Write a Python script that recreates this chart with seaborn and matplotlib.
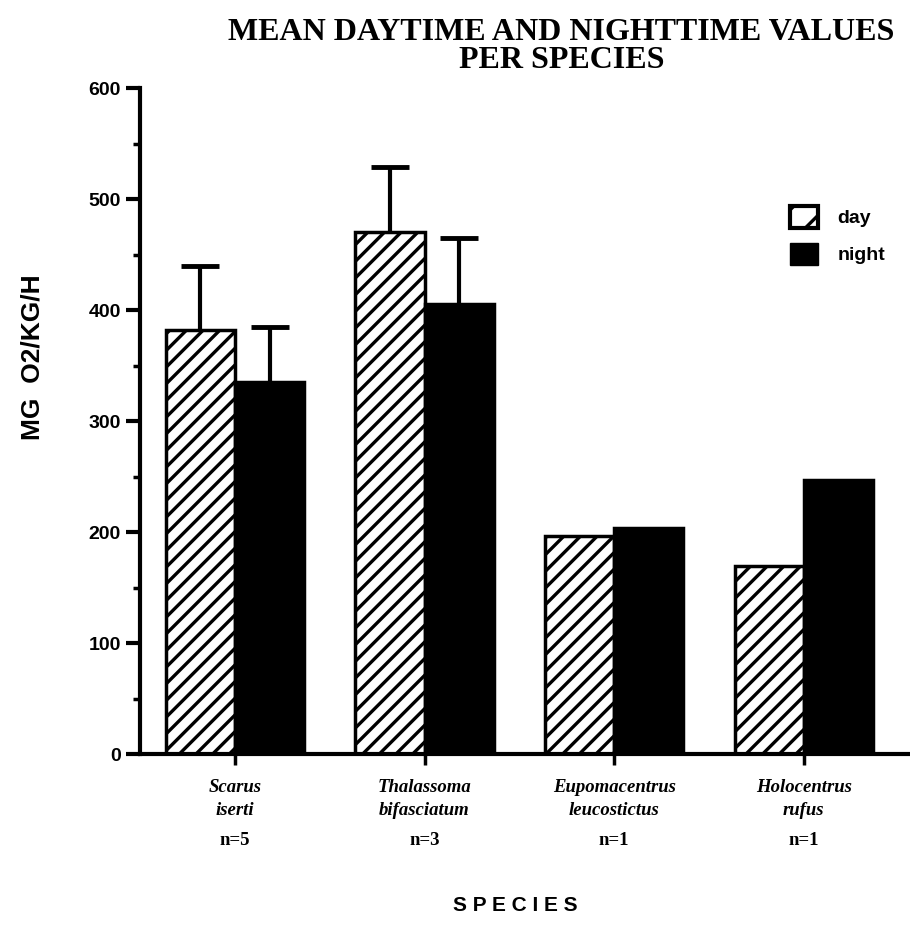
import pandas as pd
import matplotlib
matplotlib.use('Agg')
import matplotlib.pyplot as plt
import seaborn as sns
import numpy as np
from matplotlib.patches import Patch

# values
species = ['Scarus\niserti', 'Thalassoma\nbifasciatum', 'Eupomacentrus\nleucostictus', 'Holocentrus\nrufus']
n_labels = ['n=5', 'n=3', 'n=1', 'n=1']
day = [382, 471, 197, 170]
night = [335, 406, 204, 247]
day_err = [58, 58, None, None]
night_err = [50, 59, None, None]

data = pd.DataFrame({
    'species': species * 2,
    'period': ['day'] * 4 + ['night'] * 4,
    'value': day + night,
})

sns.set_style('white')
plt.rcParams.update({
    'hatch.linewidth': 2.4,
    'hatch.color': 'black',
    'text.color': 'black',
    'axes.edgecolor': 'black',
    'axes.labelcolor': 'black',
    'xtick.color': 'black',
    'ytick.color': 'black',
})

fig = plt.figure(figsize=(9.1, 9.5), dpi=100)
ax = fig.add_axes([0.154, 0.206, 0.846, 0.701])

sns.barplot(data=data, x='species', y='value', hue='period', order=species,
            hue_order=['day', 'night'], palette={'day': 'white', 'night': 'black'},
            width=0.73, gap=0, errorbar=None, edgecolor='black', linewidth=2.5,
            legend=False, ax=ax)

day_bars = ax.patches[:4]
night_bars = ax.patches[4:8]
for p in day_bars:
    p.set_hatch('//')

# upward-only error bars (drop the lower cap)
for bars, vals, errs in [(day_bars, day, day_err), (night_bars, night, night_err)]:
    for p, v, e in zip(bars, vals, errs):
        if e is None:
            continue
        xc = p.get_x() + p.get_width() / 2
        eb = ax.errorbar(xc, v, yerr=[[0], [e]], fmt='none', ecolor='black',
                         elinewidth=3, capsize=13.5, capthick=3.5, zorder=1)
        eb[1][0].set_visible(False)

ax.set_xlim(-0.5, 3.56)
ax.set_ylim(0, 600)
ax.set_yticks(range(0, 601, 100))
ax.set_yticks(range(50, 600, 100), minor=True)

sns.despine(ax=ax)
ax.spines['left'].set_linewidth(3)
ax.spines['bottom'].set_linewidth(3)

ax.tick_params(axis='y', which='major', direction='out', length=10, width=3, left=True, pad=4)
ax.tick_params(axis='y', which='minor', direction='out', length=5, width=2.5, left=True)
ax.tick_params(axis='x', direction='out', length=8, width=2.5, bottom=True, pad=10)

for lab in ax.get_yticklabels():
    lab.set_fontfamily('Liberation Sans')
    lab.set_fontweight('bold')
    lab.set_fontsize(14)

ax.set_xticks(range(4))
ax.set_xticklabels(species, fontfamily='Liberation Serif', fontstyle='italic',
                   fontweight='bold', fontsize=13.5, linespacing=1.45)

for i, t in enumerate(n_labels):
    ax.text(i, -0.13, t, transform=ax.get_xaxis_transform(), ha='center', va='center',
            fontfamily='Liberation Serif', fontweight='bold', fontsize=13.5)

ax.set_xlabel('')
ax.set_ylabel('')

fig.text(0.617, 0.951, 'MEAN DAYTIME AND NIGHTTIME VALUES\nPER SPECIES', ha='center', va='center',
         fontfamily='Liberation Serif', fontweight='bold', fontsize=23, linespacing=0.95)
fig.text(0.036, 0.624, 'MG  O2/KG/H', rotation=90, ha='center', va='center',
         fontfamily='Liberation Sans', fontweight='bold', fontsize=19)
fig.text(0.566, 0.047, 'S P E C I E S', ha='center', va='center',
         fontfamily='Liberation Sans', fontweight='bold', fontsize=15)

# legend
handles = [Patch(facecolor='white', edgecolor='black', hatch='/', linewidth=3, label='day'),
           Patch(facecolor='black', edgecolor='black', label='night')]
ax.legend(handles=handles, loc='upper left', bbox_to_anchor=(0.822, 0.85), frameon=False,
          prop={'family': 'Liberation Sans', 'weight': 'bold', 'size': 14},
          handlelength=1.4, handleheight=1.4, labelspacing=0.75, handletextpad=1.0)

fig.savefig('out.png', dpi=100, facecolor='white')
